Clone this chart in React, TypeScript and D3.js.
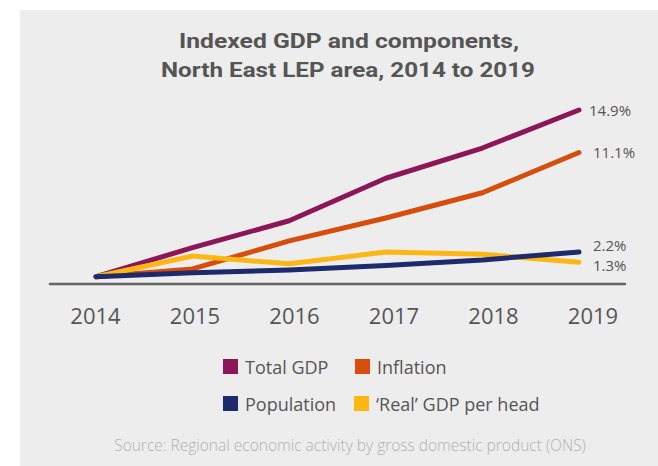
import React from "react";
import * as d3 from "d3";

const years = [2014, 2015, 2016, 2017, 2018, 2019];
const totalGDP = [0, 2.6, 5.0, 8.8, 11.5, 14.9];
const inflation = [0, 0.7, 3.2, 5.25, 7.5, 11.1];
const realGDPPerHead = [0, 1.85, 1.15, 2.2, 2.0, 1.3];
const population = [0, 0.35, 0.6, 1.0, 1.5, 2.2];
const endLabels = ["14.9%", "11.1%", "1.3%", "2.2%"];

const seriesNames = ["Total GDP", "Inflation", "'Real' GDP per head", "Population"];
const seriesColors = ["#8c1657", "#d64d0c", "#fdb714", "#1d2a6b"];
const seriesValues = [totalGDP, inflation, realGDPPerHead, population];

const W = 658;
const H = 466;

export default function App() {
  const x = d3.scalePoint<number>().domain(years).range([96, 579]);
  const xLabel = d3.scalePoint<number>().domain(years).range([95.5, 593]);
  const y = d3.scaleLinear().domain([0, 14.9]).range([276.7, 110]);
  const line = d3
    .line<number>()
    .x((_, i) => x(years[i]) as number)
    .y((d) => y(d));

  const textColor = "#555555";
  const labelFont = "'Open Sans', 'Noto Sans', sans-serif";
  const endDy = [1, 0, 4, -6];
  const endDx = [10, 14, 14, 14];

  const legend = [
    { name: "Total GDP", color: seriesColors[0], x: 223, y: 359 },
    { name: "Inflation", color: seriesColors[1], x: 355, y: 359 },
    { name: "Population", color: seriesColors[3], x: 223, y: 396 },
    { name: "\u2018Real\u2019 GDP per head", color: seriesColors[2], x: 354, y: 396 },
  ];

  return (
    <div style={{ position: "absolute", left: 0, top: 0 }}>
      <svg width={W} height={H} style={{ display: "block" }}>
        <rect x={0} y={0} width={W} height={H} fill="#ffffff" />
        <rect x={20} y={10} width={W - 20} height={H - 10} fill="#ededed" />
        <text
          x={349}
          y={48}
          textAnchor="middle"
          fontFamily="'Liberation Sans Narrow', 'Roboto', sans-serif"
          fontWeight="bold"
          fontSize={21}
          fill={textColor}
          textLength={340}
          lengthAdjust="spacingAndGlyphs"
        >
          Indexed GDP and components,
        </text>
        <text
          x={348}
          y={77}
          textAnchor="middle"
          fontFamily="'Liberation Sans Narrow', 'Roboto', sans-serif"
          fontWeight="bold"
          fontSize={21}
          fill={textColor}
          textLength={374}
          lengthAdjust="spacingAndGlyphs"
        >
          North East LEP area, 2014 to 2019
        </text>

        <line x1={50} x2={625} y1={284} y2={284} stroke="#666666" strokeWidth={2.5} strokeLinecap="round" />

        {years.map((yr) => (
          <text
            key={yr}
            x={xLabel(yr) as number}
            y={324}
            textAnchor="middle"
            fontFamily={labelFont}
            fontSize={22}
            fill={textColor}
          >
            {yr}
          </text>
        ))}

        {seriesValues.map((vals, i) => (
          <path
            key={seriesNames[i]}
            d={line(vals) || ""}
            fill="none"
            stroke={seriesColors[i]}
            strokeWidth={5}
            strokeLinecap="round"
            strokeLinejoin="round"
          />
        ))}

        {seriesValues.map((vals, i) => (
          <text
            key={"lab" + i}
            x={x(2019)! + endDx[i]}
            y={y(vals[vals.length - 1]) + endDy[i]}
            dy="0.35em"
            fontFamily={labelFont}
            fontSize={15}
            fill={textColor}
          >
            {endLabels[i]}
          </text>
        ))}

        {legend.map((l) => (
          <g key={l.name}>
            <rect x={l.x} y={l.y} width={15} height={15} fill={l.color} />
            <text x={l.x + 22} y={l.y + 15} fontFamily={labelFont} fontSize={18} fill={textColor}>
              {l.name}
            </text>
          </g>
        ))}

        <text
          x={350}
          y={451}
          textAnchor="middle"
          fontFamily={labelFont}
          fontWeight={300}
          fontSize={15.5}
          fill="#b0b0b0"
        >
          Source: Regional economic activity by gross domestic product (ONS)
        </text>
      </svg>
    </div>
  );
}
